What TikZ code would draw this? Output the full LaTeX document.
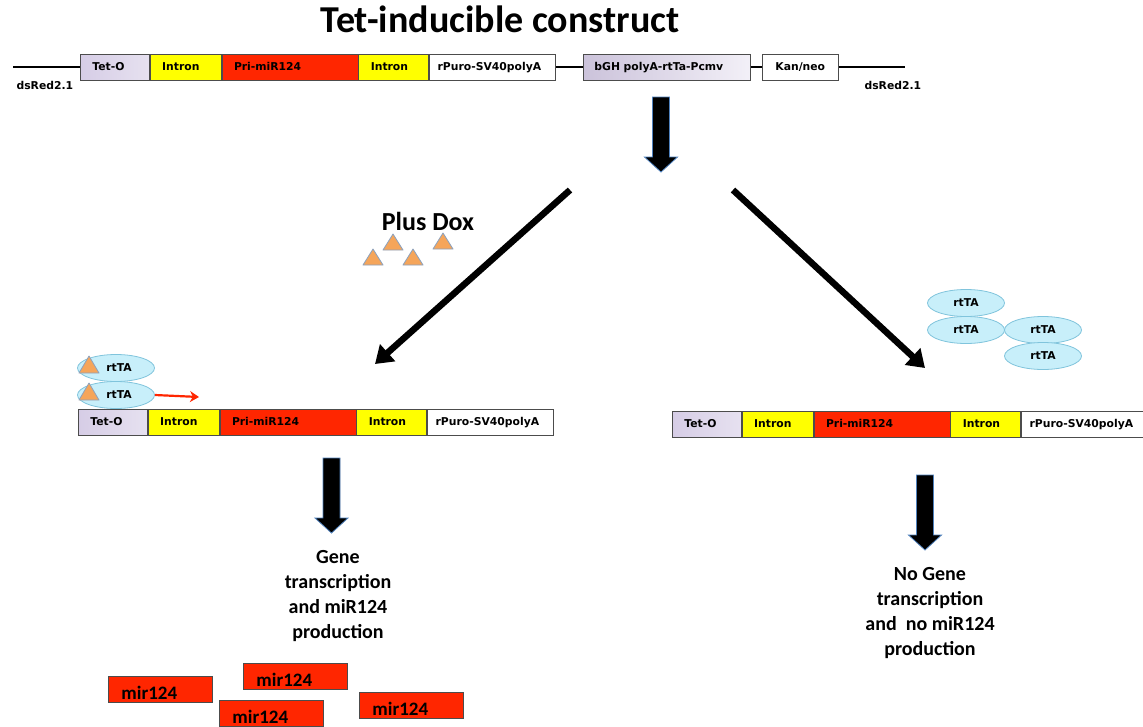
\documentclass[tikz,border=0pt]{standalone}
\usepackage{fontspec}
\setmainfont{Carlito}
\newfontfamily\lbl{DejaVu Sans}
\usepackage{tikz}
\usetikzlibrary{arrows.meta,shapes.geometric,positioning}

\definecolor{tetlav}{HTML}{D6CDE6}
\definecolor{intronyel}{HTML}{FFFF00}
\definecolor{prired}{HTML}{FF2600}
\definecolor{rtfill}{HTML}{C8EFFA}
\definecolor{rtdraw}{HTML}{80C4DC}
\definecolor{doxorange}{HTML}{F5A55A}
\definecolor{doxdraw}{HTML}{8CA2BE}
\definecolor{arrowrim}{HTML}{4F81BD}

\tikzset{
  seg/.style={draw=black!70, line width=0.8pt, minimum height=26, anchor=west,
    inner xsep=12, inner ysep=0, align=left, text height=8, text depth=2,
    font=\lbl\bfseries\fontsize{10.8}{12}\selectfont},
  teto/.style={seg, left color=tetlav, right color=tetlav!60, text width=45},
  intron/.style={seg, fill=intronyel, text width=47},
  primir/.style={seg, fill=prired, text width=112},
  intron2/.style={seg, fill=intronyel, text width=46},
  rpuro/.style={seg, fill=white, text width=110, inner xsep=8},
  backbone/.style={line width=2.4pt, black},
  rtta/.style={ellipse, draw=rtdraw, fill=rtfill, line width=0.8pt, minimum width=77,
    minimum height=27, inner sep=0, font=\lbl\bfseries\fontsize{10.8}{12}\selectfont},
  dox/.style={fill=doxorange, draw=doxdraw, line width=0.8pt, line join=round},
  diag/.style={line width=6.5pt, -{Triangle[length=17pt,width=22pt]}},
  mirbox/.style={draw=black!70, fill=prired, line width=0.8pt, minimum width=104,
    minimum height=26, anchor=north west, inner xsep=13, inner ysep=0, align=left,
    text width=78, text height=23, text depth=2,
    font=\bfseries\fontsize{19}{22}\selectfont},
  downarrow/.pic={
    \draw[fill=black, draw=arrowrim, line width=0.8pt, line join=miter]
      (-8.5,0) -- (8.5,0) -- (8.5,60) -- (16.5,60) -- (0,75) -- (-16.5,60)
      -- (-8.5,60) -- cycle;
  }
}

\begin{document}
\begin{tikzpicture}[x=1pt, y=-1pt]
    \clip (0,0) rectangle (1143,726);
    \fill[white] (0,0) rectangle (1143,726);

    % Title
    \node[anchor=base, font=\bfseries\fontsize{38}{44}\selectfont] (title) at (500,32) {Tet-inducible construct};

    % Full construct
    \coordinate (bbl) at (13,67);
    \coordinate (bbr) at (905,67);
    \node[teto] (tet) at (80,67) {Tet-O};
    \node[intron] (in1) at (tet.east) {Intron};
    \node[primir] (pri) at (in1.east) {Pri-miR124};
    \node[intron2] (in2) at (pri.east) {Intron};
    \node[rpuro] (rp) at (in2.east) {rPuro-SV40polyA};
    \node[seg, left color=tetlav!95!black, right color=tetlav!30, text width=145, inner xsep=11] (bgh) at (583,67) {bGH polyA-rtTa-Pcmv};
    \node[seg, fill=white, text width=50, inner xsep=13] (kan) at (762,67) {Kan/neo};
    \draw[backbone] (bbl) -- (tet.west);
    \draw[backbone] (rp.east) -- (bgh.west);
    \draw[backbone] (bgh.east) -- (kan.west);
    \draw[backbone] (kan.east) -- (bbr);
    \node[anchor=base west, font=\lbl\bfseries\fontsize{10.8}{12}\selectfont] (ds1) at (13,89) {dsRed2.1};
    \node[anchor=base west, font=\lbl\bfseries\fontsize{10.8}{12}\selectfont] (ds2) at (861,89) {dsRed2.1};

    % Split
    \pic at (661,97) {downarrow};
    \coordinate (sl) at (570,190);
    \coordinate (sr) at (733,190);
    \coordinate (tl) at (375,364);
    \coordinate (tr) at (925,368);
    \draw[diag] (sl) -- (tl);
    \draw[diag] (sr) -- (tr);

    % Plus Dox
    \node[anchor=base, font=\bfseries\fontsize{26}{30}\selectfont] (plusdox) at (428,230) {Plus Dox};
    \foreach \x/\y in {373/265, 393/250, 413/265, 443/249}
        \draw[dox] (\x-10,\y) -- (\x,\y-16) -- (\x+10,\y) -- cycle;

    % Left: with Dox
    \node[rtta] (rtl1) at (116,368) {\hspace{6pt}rtTA};
    \node[rtta] (rtl2) at (116,395) {\hspace{6pt}rtTA};
    \foreach \y in {373,400}
        \draw[dox] (79,\y) -- (89,\y-17) -- (99,\y) -- cycle;
    \coordinate (tss) at (199,397);
    \draw[prired, line width=2.2pt, -{Stealth[length=9pt,width=11pt]}] (rtl2.east) -- (tss);

    \node[teto] (tetL) at (78,422) {Tet-O};
    \node[intron] (in1L) at (tetL.east) {Intron};
    \node[primir] (priL) at (in1L.east) {Pri-miR124};
    \node[intron2] (in2L) at (priL.east) {Intron};
    \node[rpuro] (rpL) at (in2L.east) {rPuro-SV40polyA};

    \pic at (331.5,458) {downarrow};
    \node[anchor=north, align=center, inner sep=0, font=\bfseries\fontsize{20}{25}\selectfont] (onL) at (338,550)
        {Gene\\transcription\\and miR124\\production};

    \node[mirbox] (m1) at (108,676) {mir124};
    \node[mirbox] (m2) at (243,663) {mir124};
    \node[mirbox] (m3) at (219,700) {mir124};
    \node[mirbox] (m4) at (359,692) {mir124};

    % Right: no Dox
    \node[rtta] (rtr1) at (966,303) {rtTA};
    \node[rtta] (rtr2) at (966,330) {rtTA};
    \node[rtta] (rtr3) at (1043,330) {rtTA};
    \node[rtta] (rtr4) at (1043,356) {rtTA};

    \node[teto] (tetR) at (672,424) {Tet-O};
    \node[intron] (in1R) at (tetR.east) {Intron};
    \node[primir] (priR) at (in1R.east) {Pri-miR124};
    \node[intron2] (in2R) at (priR.east) {Intron};
    \node[rpuro] (rpR) at (in2R.east) {rPuro-SV40polyA};

    \pic at (925,475) {downarrow};
    \node[anchor=north, align=center, inner sep=0, font=\bfseries\fontsize{20}{25}\selectfont] (offR) at (930,567)
        {No Gene\\transcription\\and \ no miR124\\production};
\end{tikzpicture}
\end{document}
